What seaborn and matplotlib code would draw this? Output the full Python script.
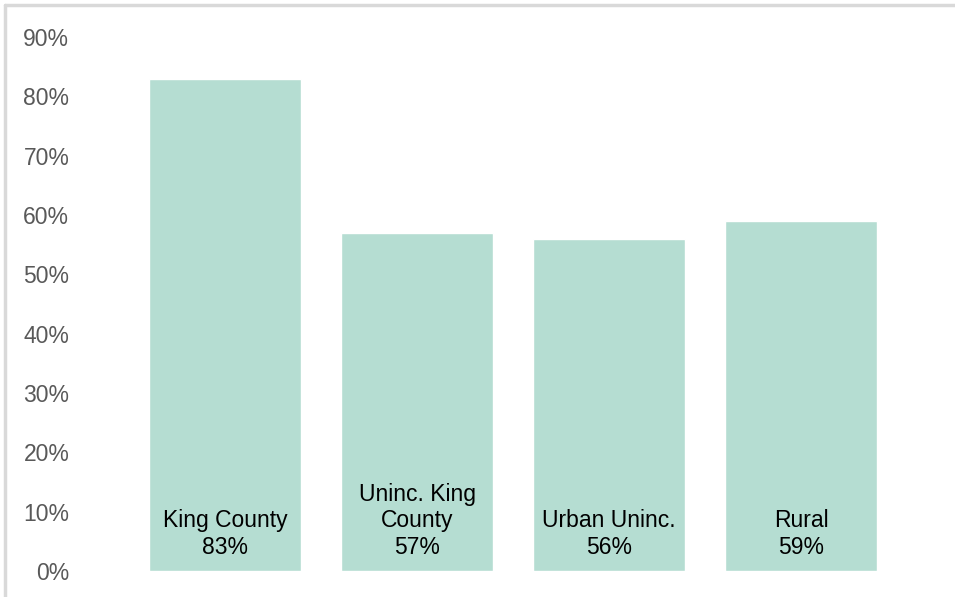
import matplotlib
matplotlib.use("Agg")
import matplotlib.pyplot as plt
from matplotlib.lines import Line2D
import seaborn as sns
import pandas as pd

# Share of residents by area
categories = ["King County", "Uninc. King\nCounty", "Urban Uninc.", "Rural"]
values = [83, 57, 56, 59]
y_ticks = [0, 10, 20, 30, 40, 50, 60, 70, 80, 90]

sns.set_theme(style="white")
plt.rcParams["font.family"] = ["Liberation Sans", "DejaVu Sans"]

df = pd.DataFrame({"area": categories, "pct": values})

fig = plt.figure(figsize=(9.55, 5.97), dpi=100)
ax = fig.add_axes([129 / 955, 26 / 597, 768 / 955, 534 / 597])

sns.barplot(data=df, x="area", y="pct", color="#b5ddd2", saturation=1,
            width=0.79, ax=ax)

ax.set_xlim(-0.5, 3.5)
ax.set_ylim(0, 90)
ax.set_yticks(y_ticks)
ax.set_yticklabels([f"{t}%" for t in y_ticks])
ax.tick_params(axis="y", length=0, pad=43, labelsize=16.5, labelcolor="#595959")
ax.set_xticks([])
ax.set_xlabel("")
ax.set_ylabel("")
for s in ax.spines.values():
    s.set_visible(False)

# Category name and value inside each bar, near its base
for i, (cat, v) in enumerate(zip(categories, values)):
    ax.text(i, 2.1, f"{cat}\n{v}%", ha="center", va="bottom",
            fontsize=16.5, color="black", linespacing=1.17)

# Light frame along the top and left edges
fig.add_artist(Line2D([5 / 955, 5 / 955], [0, 1 - 5 / 597],
                      transform=fig.transFigure, color="#d9d9d9", lw=2.5))
fig.add_artist(Line2D([5 / 955, 1], [1 - 5 / 597, 1 - 5 / 597],
                      transform=fig.transFigure, color="#d9d9d9", lw=2.5))

fig.savefig("out.png", dpi=100)
